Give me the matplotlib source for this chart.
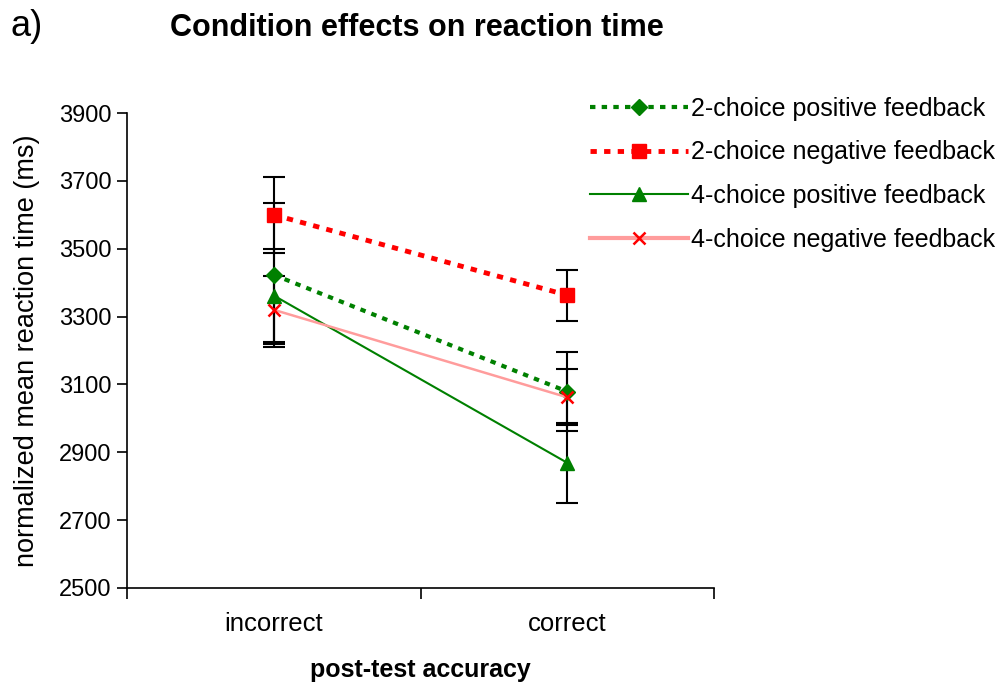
"""
Condition effects on reaction time: line plot with error bars.
"""

import numpy as np
import matplotlib.pyplot as plt
from matplotlib.lines import Line2D

plt.rcParams["font.family"] = ["Liberation Sans", "DejaVu Sans"]

# =========================================================
# Data
# =========================================================
categories = ["incorrect", "correct"]

pos2_mean = [3423, 3079]
pos2_err = [212, 117]

neg2_mean = [3600, 3363]
neg2_err = [112, 75]

pos4_mean = [3362, 2869]
pos4_err = [137, 118]

neg4_mean = [3320, 3062]
neg4_err = [100, 83]

labels = ["2-choice positive feedback", "2-choice negative feedback",
          "4-choice positive feedback", "4-choice negative feedback"]

y_ticks = np.arange(2500, 3901, 200)

# =========================================================
# Plot
# =========================================================
fig = plt.figure(figsize=(10.05, 6.88), dpi=100)
ax = fig.add_axes([127 / 1005, 100 / 688, 587 / 1005, 475 / 688])

x = np.arange(len(categories))
GREEN = "#008000"
RED = "#ff0000"
PINK = "#ff9c9c"
DOT = (0, (1.3, 1.5))

err_kw = dict(fmt="none", ecolor="black", elinewidth=1.5,
              capsize=8, capthick=1.5, zorder=2)
for m, e in [(pos2_mean, pos2_err), (neg2_mean, neg2_err),
             (pos4_mean, pos4_err), (neg4_mean, neg4_err)]:
    ax.errorbar(x, m, yerr=e, **err_kw)

ax.plot(x, pos2_mean, color=GREEN, lw=3, ls=DOT,
        marker="D", ms=8, mfc=GREEN, mec=GREEN, zorder=3)
ax.plot(x, neg2_mean, color=RED, lw=3.5, ls=DOT,
        marker="s", ms=10, mfc=RED, mec=RED, zorder=3)
ax.plot(x, pos4_mean, color=GREEN, lw=1.5, ls="-",
        marker="^", ms=10, mfc=GREEN, mec=GREEN, zorder=3)
ax.plot(x, neg4_mean, color=PINK, lw=1.8, ls="-",
        marker="x", ms=9, mew=1.8, mec=RED, zorder=3)

ax.set_ylim(2500, 3900)
ax.set_yticks(y_ticks)
ax.set_yticklabels([str(v) for v in y_ticks])
ax.set_xlim(-0.5, 1.5)
ax.set_xticks([-0.5, 0.5, 1.5])
ax.set_xticklabels([])
ax.set_xticks(x, minor=True)
ax.set_xticklabels(categories, minor=True)
ax.tick_params(axis="x", which="minor", length=0, pad=17, labelsize=18.5)
ax.tick_params(axis="x", which="major", length=8, width=1.2, direction="out")
ax.tick_params(axis="y", length=7, width=1.2, direction="out", labelsize=17, pad=4)

for side in ["top", "right"]:
    ax.spines[side].set_visible(False)
for side in ["left", "bottom"]:
    ax.spines[side].set_linewidth(1.2)

ax.set_ylabel("normalized mean reaction time (ms)", fontsize=19.5, labelpad=14)
ax.set_xlabel("post-test accuracy", fontsize=18, fontweight="bold", labelpad=16)

fig.text(170 / 1005, 1 - 28 / 688, "Condition effects on reaction time",
         fontsize=22, fontweight="bold", va="center", ha="left")
fig.text(10 / 1005, 1 - 26 / 688, "a)", fontsize=26, va="center", ha="left")

handles = [
    Line2D([], [], color=GREEN, lw=3, ls=DOT, marker="D", ms=8),
    Line2D([], [], color=RED, lw=3.5, ls=DOT, marker="s", ms=10),
    Line2D([], [], color=GREEN, lw=1.5, ls="-", marker="^", ms=10),
    Line2D([], [], color=PINK, lw=3, ls="-", marker="x", ms=9, mew=1.8, mec=RED),
]
fig.legend(handles, labels, loc="upper left",
           bbox_to_anchor=(590 / 1005, 1 - 97 / 688),
           frameon=False, fontsize=18, handlelength=3.9,
           handletextpad=0.15, labelspacing=0.78, borderpad=0, borderaxespad=0)

plt.savefig("out.png", dpi=100)
